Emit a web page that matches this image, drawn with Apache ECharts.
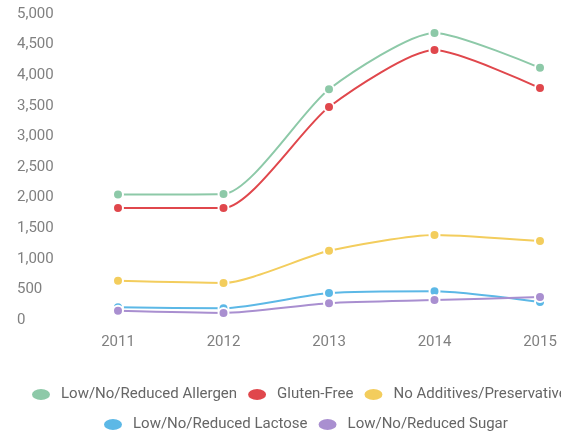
<!DOCTYPE html>
<html>
<head>
<meta charset="utf-8">
<script src="https://cdn.jsdelivr.net/npm/echarts@6/dist/echarts.min.js"></script>
<style>html,body{margin:0;padding:0;background:#fff}#c{width:561px;height:433px}</style>
</head>
<body>
<div id="c"></div>
<script>
var years = ['2011', '2012', '2013', '2014', '2015'];
var seriesNames = ['Low/No/Reduced Allergen', 'Gluten-Free', 'No Additives/Preservatives', 'Low/No/Reduced Lactose', 'Low/No/Reduced Sugar'];
var allergen = [2050, 2060, 3770, 4690, 4120];
var glutenFree = [1830, 1830, 3480, 4410, 3790];
var noAdditives = [640, 605, 1130, 1390, 1290];
var lactose = [210, 190, 440, 470, 295];
var sugar = [150, 115, 275, 325, 375];
var yTicks = { min: 0, max: 5000, interval: 500 };
var colors = ['#8dc9a8', '#e0474c', '#f3cd5d', '#5cb8e6', '#a98fd0'];

var values = [allergen, glutenFree, noAdditives, lactose, sugar];
var ellipse = 'path://M0,32 A50,32 0 1,1 100,32 A50,32 0 1,1 0,32 Z';
var font = 'Roboto, sans-serif';

var chart = echarts.init(document.getElementById('c'), null, { renderer: 'canvas' });
var legendBase = {
  orient: 'horizontal',
  icon: ellipse,
  symbolKeepAspect: false,
  itemWidth: 20,
  itemHeight: 13,
  itemGap: 9,
  padding: 0,
  textStyle: { color: '#666', fontSize: 15, fontFamily: font, padding: [0, 0, 0, 5] }
};
chart.setOption({
  animation: false,
  color: colors,
  grid: { left: 118, right: 21, top: 14, bottom: 113, containLabel: false },
  legend: [
    Object.assign({}, legendBase, { left: 30, top: 387, width: 900, data: seriesNames.slice(0, 3) }),
    Object.assign({}, legendBase, { left: 102, top: 417, width: 900, data: seriesNames.slice(3) })
  ],
  xAxis: {
    type: 'category',
    data: years,
    boundaryGap: false,
    axisLine: { show: false },
    axisTick: { show: false },
    splitLine: { show: false },
    axisLabel: { color: '#808080', fontSize: 15, fontFamily: font, margin: 15 }
  },
  yAxis: {
    type: 'value',
    min: yTicks.min,
    max: yTicks.max,
    interval: yTicks.interval,
    axisLine: { show: false },
    axisTick: { show: false },
    splitLine: { show: false },
    axisLabel: {
      color: '#808080', fontSize: 15, fontFamily: font, align: 'left', margin: 101,
      formatter: function (v) { return v.toLocaleString('en-US'); }
    }
  },
  series: seriesNames.map(function (n, i) {
    return {
      name: n,
      type: 'line',
      data: values[i],
      smooth: 0.22,
      symbol: 'circle',
      symbolSize: 10,
      showSymbol: true,
      lineStyle: { width: 2, color: colors[i] },
      itemStyle: { color: colors[i], borderColor: '#fff', borderWidth: 2 }
    };
  })
});
</script>
</body>
</html>
